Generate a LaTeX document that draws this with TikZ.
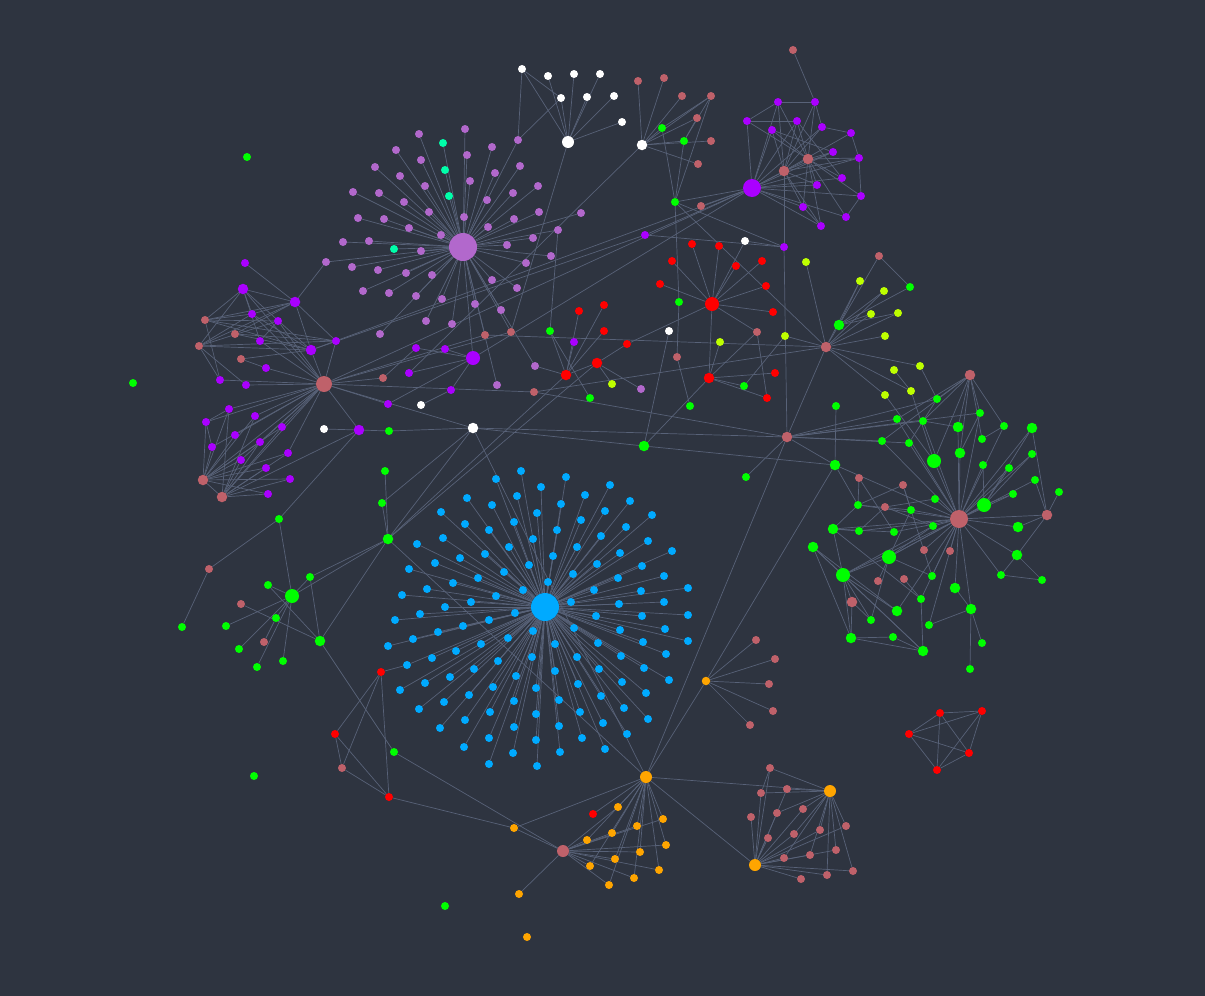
\documentclass[tikz,border=0pt]{standalone}
\usepackage{tikz}
\usetikzlibrary{positioning}
\definecolor{bgc}{RGB}{46,52,64}
\definecolor{edgec}{RGB}{88,98,120}
\definecolor{cblue}{RGB}{0,170,255}
\definecolor{corchid}{RGB}{178,104,204}
\definecolor{cpurple}{RGB}{170,0,255}
\definecolor{crose}{RGB}{191,97,106}
\definecolor{cgreen}{RGB}{0,255,0}
\definecolor{cred}{RGB}{255,0,0}
\definecolor{corange}{RGB}{255,165,0}
\definecolor{clime}{RGB}{190,255,0}
\definecolor{cspring}{RGB}{0,255,170}
\pgfdeclarelayer{back}
\pgfdeclarelayer{links}
\pgfsetlayers{back,links,main}

\begin{document}
\begin{tikzpicture}[x=1pt, y=-1pt,
    dot/.style={circle, inner sep=0pt, minimum size=8pt},
    mid/.style={dot, minimum size=10.5pt},
    big/.style={dot, minimum size=14pt},
    link/.style={draw=edgec, line width=0.7pt}]
        \begin{pgfonlayer}{back}
            \fill[bgc] (0,0) rectangle (1205,996);
        \end{pgfonlayer}
        \useasboundingbox (0,0) rectangle (1205,996);

        % Hubs
        \node[dot, minimum size=28pt, fill=cblue] (bhub) at (545,607) {};
        \node[dot, minimum size=28pt, fill=corchid] (ohub) at (463,247) {};
        \node[dot, minimum size=18pt, fill=cpurple] (phub) at (752,188) {};
        \node[dot, minimum size=16pt, fill=crose] (lhub) at (324,384) {};
        \node[dot, minimum size=18pt, fill=crose] (ghub) at (959,519) {};
        \node[dot, minimum size=14pt, fill=cred] (rhub) at (712,304) {};
        \node[dot, minimum size=12pt, fill=white] (whub) at (568,142) {};
        \node[mid, fill=white] (whub2) at (642,145) {};
        \node[dot, minimum size=12pt, fill=corange] (oa) at (646,777) {};
        \node[dot, minimum size=12pt, fill=corange] (ob) at (830,791) {};
        \node[dot, minimum size=12pt, fill=corange] (oc) at (755,865) {};
        \node[dot, minimum size=8.5pt, fill=corange] (od) at (706,681) {};
        \node[dot, minimum size=12pt, fill=crose] (mhub) at (563,851) {};

        % Blue star
        \node[dot, fill=cblue] (bx) at (407,665) {};
        \foreach \x/\y [count=\i] in {521/471, 496/479, 566/477, 541/487, 610/485, 467/498, 517/496, 585/495, 492/505, 561/504, 630/501, 441/512, 537/513, 605/511, 652/515, 465/524, 514/522, 581/520, 489/530, 557/530, 626/527, 417/544, 443/538, 533/539, 601/536, 648/541, 509/547, 577/547, 460/558, 485/554, 553/556, 620/553, 672/551, 409/569, 435/563, 529/565, 597/564, 642/566, 504/572, 573/574, 478/578, 618/578, 664/576, 453/583, 548/582, 427/589, 523/590, 594/590, 641/591, 688/588, 402/595, 496/596, 471/602, 619/604, 664/602, 445/607, 571/602, 420/614, 515/613, 596/616, 642/616, 688/615, 395/620, 489/620, 463/626, 574/628, 620/630, 665/629, 438/632, 533/631, 413/639, 508/638, 555/644, 598/643, 643/642, 688/641, 388/646, 481/644, 456/651, 532/657, 432/658, 577/657, 621/656, 666/654, 498/661, 474/669, 555/671, 599/669, 644/668, 516/676, 450/677, 425/683, 578/684, 622/682, 669/680, 493/687, 536/688, 400/690, 469/695, 601/696, 646/693, 444/702, 514/701, 559/700, 419/709, 624/708, 490/712, 580/712, 536/714, 465/720, 648/719, 603/723, 440/728, 514/727, 559/726, 627/734, 489/738, 536/740, 582/738, 464/747, 605/749, 513/753, 560/752, 489/764, 537/766} {
            \node[dot, fill=cblue] (b\i) at (\x,\y) {};
            \begin{pgfonlayer}{links}\draw[link] (bhub) -- (b\i);\end{pgfonlayer}
        }

        % Orchid star
        \foreach \x/\y [count=\i] in {465/129, 419/134, 396/150, 492/147, 467/155, 421/160, 375/167, 495/173, 520/166, 400/176, 425/186, 470/181, 353/192, 379/193, 513/193, 538/186, 404/202, 487/200, 429/212, 358/218, 384/219, 514/219, 539/212, 464/217, 409/228, 441/235, 488/227, 343/242, 369/241, 533/238, 421/251, 507/245, 352/267, 378/270, 406/273, 526/263, 432/275, 492/280, 363/291, 389/293, 416/296, 442/299, 517/288, 475/304, 501/310, 426/321, 452/324, 380/334} {
            \node[dot, fill=corchid] (o\i) at (\x,\y) {};
            \begin{pgfonlayer}{links}\draw[link] (ohub) -- (o\i);\end{pgfonlayer}
        }
        \foreach \x/\y [count=\i] in {443/143, 445/170, 449/196, 394/249} {
            \node[dot, fill=cspring] (sp\i) at (\x,\y) {};
            \begin{pgfonlayer}{links}\draw[link] (ohub) -- (sp\i);\end{pgfonlayer}
        }

        % Other nodes
        \foreach \n/\x/\y/\c/\s in {
            oa1/518/140/corchid/dot, oa2/581/213/corchid/dot, oa3/558/230/corchid/dot, oa4/551/256/corchid/dot,
            l1/245/263/cpurple/dot, l2/243/289/cpurple/mid, l3/295/302/cpurple/mid, l4/252/314/cpurple/dot,
            l5/205/320/crose/dot, l6/278/321/cpurple/dot, l7/235/334/crose/dot, l8/199/346/crose/dot,
            l9/260/341/cpurple/dot, l10/336/341/cpurple/dot, l11/311/350/cpurple/mid, l12/241/359/crose/dot,
            l13/266/368/cpurple/dot, l14/220/380/cpurple/dot, l15/246/385/cpurple/dot, l16/229/409/cpurple/dot,
            l17/206/422/cpurple/dot, l18/255/416/cpurple/dot, l19/282/427/cpurple/dot, l20/324/429/white/dot,
            l21/359/430/cpurple/mid, l22/235/435/cpurple/dot, l23/212/447/cpurple/dot, l24/260/442/cpurple/dot,
            l25/288/453/cpurple/dot, l26/241/460/cpurple/dot, l27/266/468/cpurple/dot, l28/203/480/crose/mid,
            l29/290/479/cpurple/dot, l30/222/497/crose/mid, l31/268/494/cpurple/dot, l32/326/262/corchid/dot,
            p1/778/102/cpurple/dot, p2/815/102/cpurple/dot, p3/747/121/cpurple/dot, p4/797/121/cpurple/dot,
            p5/772/130/cpurple/dot, p6/822/127/cpurple/dot, p7/851/133/cpurple/dot, p8/833/152/cpurple/dot,
            p9/859/158/cpurple/dot, p10/842/178/cpurple/dot, p11/817/185/cpurple/dot, p12/861/196/cpurple/dot,
            p13/803/207/cpurple/dot, p14/846/217/cpurple/dot, p15/821/226/cpurple/dot,
            pr1/808/159/crose/mid, pr2/784/171/crose/mid, pt/793/50/crose/dot,
            w1/522/69/white/dot, w2/548/76/white/dot, w3/574/74/white/dot, w4/600/74/white/dot,
            w5/561/98/white/dot, w6/587/97/white/dot, w7/614/96/white/dot, w8/622/122/white/dot,
            t1/638/81/crose/dot, t2/664/78/crose/dot, t3/682/96/crose/dot, t4/711/96/crose/dot,
            t5/697/118/crose/dot, t6/711/141/crose/dot, t7/698/164/crose/dot, t8/662/128/cgreen/dot,
            t9/684/141/cgreen/dot, g6/675/202/cgreen/dot, t10/701/206/crose/dot,
            mp1/645/235/cpurple/dot, r1/692/244/cred/dot, r2/719/246/cred/dot, w9/745/241/white/dot,
            mp2/784/247/cpurple/dot, r3/672/261/cred/dot, r4/736/266/cred/dot, r5/762/261/cred/dot,
            y1/806/262/clime/dot, r6/660/284/cred/dot, r7/766/286/cred/dot, g1/679/302/cgreen/dot,
            r8/773/312/cred/dot, r9/579/311/cred/dot, r10/604/305/cred/dot, g2/550/331/cgreen/dot,
            r11/604/331/cred/dot, w10/669/331/white/dot, q1/757/332/crose/dot, y2/785/336/clime/dot,
            y3/720/342/clime/dot, mp3/574/342/cpurple/dot, r12/627/344/cred/dot, r13/597/363/cred/mid,
            q2/677/357/crose/dot, r14/775/373/cred/dot, r15/566/375/cred/mid, r16/709/378/cred/mid,
            y4/612/384/clime/dot, g3/744/386/cgreen/dot, o5/641/389/corchid/dot, q3/534/392/crose/dot,
            g4/590/398/cgreen/dot, r17/767/398/cred/dot, g5/690/406/cgreen/dot,
            o6/535/366/corchid/dot, o7/497/385/corchid/dot,
            m2/416/348/cpurple/dot, m3/445/349/cpurple/dot, pb/473/358/cpurple/big, m4/409/373/cpurple/dot,
            m5/388/404/cpurple/dot, m6/451/390/cpurple/dot, q4/383/378/crose/dot, q5/485/335/crose/dot,
            q6/511/332/crose/dot, w11/421/405/white/dot, w12/473/428/white/mid, g7/389/431/cgreen/dot,
            rq1/826/347/crose/mid, rq2/787/437/crose/mid, rq3/879/256/crose/dot, rq4/970/375/crose/mid,
            n1/860/281/clime/dot, n2/884/291/clime/dot, n3/910/287/cgreen/dot, n4/871/314/clime/dot,
            n5/898/313/clime/dot, n6/839/325/cgreen/mid, n7/885/336/clime/dot, n8/920/366/clime/dot,
            n9/894/370/clime/dot, n10/911/391/clime/dot, n11/885/395/clime/dot, n12/937/399/cgreen/dot,
            n13/836/406/cgreen/dot, n14/980/413/cgreen/dot, n15/897/419/cgreen/dot, n16/923/421/cgreen/dot,
            n17/958/427/cgreen/mid, n18/1004/426/cgreen/dot, n19/1032/428/cgreen/mid, n20/882/441/cgreen/dot,
            n21/909/443/cgreen/dot, n22/982/439/cgreen/dot, n23/934/461/cgreen/big, n24/960/453/cgreen/mid,
            n25/1032/454/cgreen/dot, n26/835/465/cgreen/mid, n27/983/465/cgreen/dot, n28/1009/468/cgreen/dot,
            n29/859/478/crose/dot, n30/903/485/crose/dot, n31/1035/480/cgreen/dot, n32/1059/492/cgreen/dot,
            n33/858/505/cgreen/dot, n34/885/507/crose/dot, n35/935/499/cgreen/dot, n36/911/510/cgreen/dot,
            n37/984/505/cgreen/big, n38/1047/515/crose/mid, n39/1013/494/cgreen/dot, n40/833/529/cgreen/mid,
            n41/859/531/cgreen/dot, n42/894/532/cgreen/dot, n43/933/526/cgreen/dot, n44/1018/527/cgreen/mid,
            n45/813/547/cgreen/mid, n46/924/550/crose/dot, n47/950/551/crose/dot, n48/889/557/cgreen/big,
            n49/1017/555/cgreen/mid, n50/843/575/cgreen/big, n51/878/581/crose/dot, n52/904/579/crose/dot,
            n53/932/576/cgreen/dot, n54/955/588/cgreen/mid, n55/1001/575/cgreen/dot, n56/1042/580/cgreen/dot,
            n57/852/602/crose/mid, n58/921/599/cgreen/dot, n59/971/609/cgreen/mid, n60/897/611/cgreen/mid,
            n61/871/620/cgreen/dot, n62/929/625/cgreen/dot, n63/982/643/cgreen/dot, n64/851/638/cgreen/mid,
            n65/893/637/cgreen/dot, n66/923/651/cgreen/mid, n67/970/669/cgreen/dot,
            g8/746/477/cgreen/dot, g9/644/446/cgreen/mid,
            s1/385/471/cgreen/dot, s2/382/503/cgreen/dot, s3/279/519/cgreen/dot, s4/388/539/cgreen/mid,
            s5/209/569/crose/dot, s6/268/585/cgreen/dot, s7/310/577/cgreen/dot, s8/292/596/cgreen/big,
            s9/241/604/crose/dot, s10/182/627/cgreen/dot, s11/226/626/cgreen/dot, s12/276/618/cgreen/dot,
            s13/320/641/cgreen/mid, s14/264/642/crose/dot, s15/239/649/cgreen/dot, s16/283/661/cgreen/dot,
            s17/257/667/cgreen/dot,
            u1/381/672/cred/dot, u2/335/734/cred/dot, u3/342/768/crose/dot, u4/394/752/cgreen/dot,
            u5/389/797/cred/dot, u6/514/828/corange/dot, u7/519/894/corange/dot, u8/445/906/cgreen/dot,
            u9/527/937/corange/dot, u10/254/776/cgreen/dot,
            v1/756/640/crose/dot, v2/775/659/crose/dot, v3/769/684/crose/dot, v4/773/711/crose/dot, v5/750/725/crose/dot,
            k1/593/814/cred/dot, k2/618/807/corange/dot, k3/663/819/corange/dot, k4/637/826/corange/dot,
            k5/612/833/corange/dot, k6/587/840/corange/dot, k7/666/845/corange/dot, k8/640/852/corange/dot,
            k9/615/859/corange/dot, k10/590/866/corange/dot, k11/659/870/corange/dot, k12/634/878/corange/dot,
            k13/609/885/corange/dot,
            h1/770/768/crose/dot, h2/787/789/crose/dot, h3/761/793/crose/dot, h4/803/809/crose/dot,
            h5/777/813/crose/dot, h6/751/817/crose/dot, h7/820/830/crose/dot, h8/846/826/crose/dot,
            h9/794/834/crose/dot, h10/768/838/crose/dot, h11/836/850/crose/dot, h12/810/855/crose/dot,
            h13/784/858/crose/dot, h14/853/871/crose/dot, h15/827/875/crose/dot, h16/801/879/crose/dot,
            e1/940/713/cred/dot, e2/982/711/cred/dot, e3/909/734/cred/dot, e4/969/753/cred/dot, e5/937/770/cred/dot,
            i1/247/157/cgreen/dot, i2/133/383/cgreen/dot} {
            \node[\s, fill=\c] (\n) at (\x,\y) {};
        }

        % Connectors
        \begin{pgfonlayer}{links}
        \foreach \a/\b in {bhub/bx, ohub/oa1, ohub/oa2, ohub/oa3, ohub/oa4, ohub/l32, ohub/pb, ohub/o7, ohub/q5, ohub/q6, ohub/o6,
            l1/l3, l32/l3, l2/l3, l2/l4, l2/l5, l2/l8, l2/l9, l2/l11, l2/lhub, l3/l4, l3/l5, l3/l7, l3/l8, l3/l11, l3/l10,
            l5/l4, l5/l6, l5/l10, l5/l11, l5/l14, l8/l4, l8/l6, l8/l10, l8/l11, l8/l14, l8/l15, l7/l11, l7/l10,
            l12/l13, l12/l11, l4/l11, l6/l9, l20/l21, l16/l17, l17/l23,
            lhub/l4, lhub/l6, lhub/l9, lhub/l10, lhub/l11, lhub/l13, lhub/l14, lhub/l15, lhub/l16, lhub/l17,
            lhub/l18, lhub/l19, lhub/l22, lhub/l23, lhub/l24, lhub/l25, lhub/l26, lhub/l28, lhub/l30, lhub/l21,
            l28/l16, l28/l17, l28/l18, l28/l19, l28/l22, l28/l23, l28/l24, l28/l25, l28/l26, l28/l27, l28/l29, l28/l30, l28/l31,
            l30/l16, l30/l18, l30/l19, l30/l24, l30/l25, l30/l27, l30/l29, l30/l31, l30/l21, l30/l26,
            pt/p2, p1/p2, p1/p3, p3/p4, p2/p6, p6/p7, p7/p9, p9/p12, p12/p14, p13/p15, p5/p8, p4/p10,
            phub/p1, phub/p3, phub/p4, phub/p5, phub/p6, phub/p8, phub/p9, phub/p10, phub/p11, phub/p12,
            phub/p13, phub/p14, phub/p15, phub/pr1, phub/pr2,
            pr1/p1, pr1/p2, pr1/p3, pr1/p4, pr1/p5, pr1/p8, pr1/p9, pr1/p10, pr1/p11, pr1/p12, pr1/p13, pr1/p14, pr1/p15,
            pr2/p1, pr2/p2, pr2/p4, pr2/p5, pr2/p6, pr2/p7, pr2/p8, pr2/p9, pr2/p11, pr2/p13, pr2/p15,
            whub/w1, whub/w2, whub/w3, whub/w4, whub/w5, whub/w6, whub/w7, whub/w8, w1/w5, w1/oa1, w5/oa1, whub/q6,
            whub2/t1, whub2/t2, whub2/t3, whub2/t4, whub2/t5, whub2/t6, whub2/t7, whub2/t8, whub2/t9,
            t4/t8, t4/t9, t4/g6, t5/t9, t8/g6, t9/g6, g6/phub, g6/g1, g6/mp2, g6/rq1, whub2/m4, t10/phub,
            phub/lhub, phub/l11, phub/pb, phub/mp1, mp1/l11, mp1/mp2, w9/mp2, mp2/rq2, mp2/pr2,
            pb/m2, pb/m3, pb/m6, pb/m4, pb/m5, q4/lhub, q4/m2, m5/lhub, w11/m6, g7/l21, g7/w12,
            lhub/q5, lhub/q6, lhub/w12, q3/lhub, q3/rq1, q5/rq1, rq2/q3, rq2/w12, w12/s4, w12/s2, w12/g9, w12/oa,
            g9/r16, g9/w10, g9/n26, g8/rq2,
            rhub/r1, rhub/r2, rhub/w9, rhub/r3, rhub/r4, rhub/r5, rhub/r6, rhub/r7, rhub/r8, rhub/q1, rhub/r16, rhub/r12,
            y1/rq1, q1/r17, q1/r16, y2/g3, r16/r14, r16/g3, r16/r17, r16/y3, r15/r9, r15/r10, r15/r11, r15/mp3, r15/g2, r15/r13,
            g2/oa3, g2/g4, r13/r12, g1/q2, y4/r13, o5/r13, g5/q2, o6/r15,
            rq1/y2, rq1/n6, rq1/n1, rq1/n2, rq1/n4, rq1/n5, rq1/n7, rq1/n8, rq1/n10, rq1/n11, rq1/rq2,
            n6/n1, n6/n2, n6/n3, n6/n4, n6/n5, rq3/n6, rq3/n3, n9/n10, n10/n23, n11/n23, n8/n12,
            rq4/n12, rq4/n15, rq4/n16, rq4/n17, rq4/n14, rq4/n18, rq4/n23, rq4/n20, rq4/n22, rq4/n24,
            rq2/n20, rq2/n21, rq2/n15, rq2/n12, rq2/n14, rq2/n26, rq2/n16, n13/n26,
            ghub/n23, ghub/n24, ghub/n27, ghub/n28, ghub/n25, ghub/n31, ghub/n37, ghub/n39, ghub/n44, ghub/n49,
            ghub/n55, ghub/n38, ghub/n54, ghub/n59, ghub/n58, ghub/n53, ghub/n43, ghub/n35, ghub/n36, ghub/n42,
            ghub/n48, ghub/n41, ghub/n33, ghub/n50, ghub/n26, ghub/n16, ghub/n17, ghub/n14, ghub/n18, ghub/n19,
            ghub/n15, ghub/n20, ghub/n21, ghub/n62, ghub/n60, ghub/n46, ghub/n47, ghub/n40,
            n38/n32, n38/n19, n38/n31, n38/n44, n38/n49, n49/n55, n49/n56, n55/n56,
            n37/n39, n37/n25, n37/n27, n37/n28, n37/n19,
            n50/n57, n50/n48, n50/n43, n50/n64, n50/n60, n50/n61, n50/n66, n45/n64, n45/n66, n45/n60, n45/n50,
            n57/n64, n57/n61, n64/n65, n64/n66, n65/n66, n58/n66, n62/n59, n59/n63, n59/n67, n59/n54,
            n48/n43, n48/n37, n48/n61, n48/n53, n48/n36, n40/n41, n40/n42, n40/n58, n40/n50, n40/n33,
            n33/n26, n33/n29, n33/n36, n29/n42, n30/n36, n30/n53, n30/n33, n34/n41, n34/n35, n34/n43,
            n22/n18, n12/n21, n14/n24, n17/n16, n51/n48, n52/n58,
            s10/s5, s5/s3, s3/s8, s3/l21, s8/s6, s8/s7, s8/s11, s8/s15, s8/s17, s8/s16, s8/s4, s8/s12,
            s9/s13, s6/s13, s7/s13, s13/s4, s7/s4, s1/s4, s2/s4, s4/r15, s4/r13, s12/s14, s13/u4,
            u1/bx, u1/u2, u1/u3, u1/u5, u2/u3, u2/u5, u3/u5, u5/u6, u4/mhub, u6/mhub, u6/oa, mhub/u7,
            od/v1, od/v2, od/v3, od/v4, od/v5, od/oa, od/n26, oa/rq2, oa/ob, oa/oc, oa/s4,
            oa/k1, oa/k2, oa/k3, oa/k4, oa/k5, oa/k6, oa/k7, oa/k8, oa/k9, oa/k10, oa/k11, oa/k12, oa/k13,
            mhub/k2, mhub/k3, mhub/k4, mhub/k5, mhub/k6, mhub/k7, mhub/k8, mhub/k9, mhub/k10, mhub/k11, mhub/k12, mhub/k13,
            ob/h1, ob/h2, ob/h3, ob/h4, ob/h5, ob/h7, ob/h8, ob/h9, ob/h11, ob/h12, ob/h13, ob/h14, ob/h15,
            oc/h1, oc/h2, oc/h3, oc/h4, oc/h5, oc/h6, oc/h7, oc/h8, oc/h9, oc/h10, oc/h11, oc/h12, oc/h13, oc/h14, oc/h15, oc/h16,
            h1/h3, e1/e2, e1/e3, e1/e4, e1/e5, e2/e3, e2/e4, e2/e5, e3/e4, e3/e5, e4/e5}
            \draw[link] (\a) -- (\b);
        \end{pgfonlayer}
    \end{tikzpicture}
\end{document}
